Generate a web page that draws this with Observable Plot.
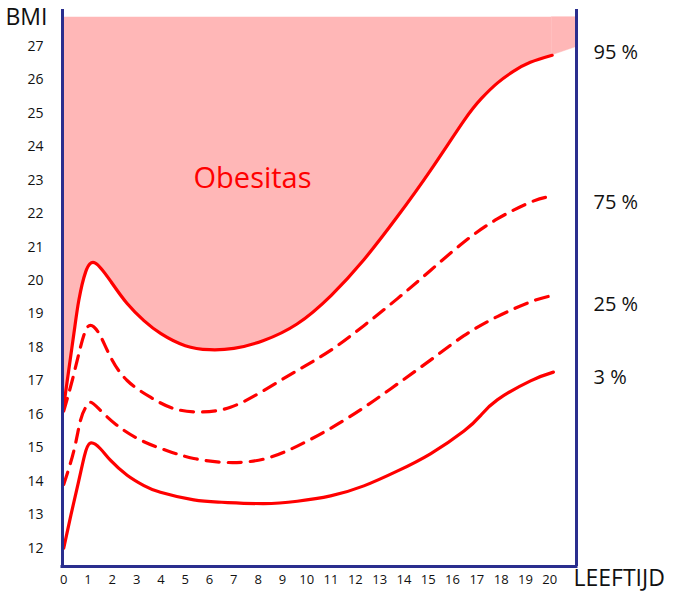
<!DOCTYPE html>
<html>
<head>
<meta charset="utf-8">
<script src="https://cdn.jsdelivr.net/npm/d3@7"></script>
<script src="https://cdn.jsdelivr.net/npm/@observablehq/plot@0.6"></script>
<style>
  html, body { margin: 0; padding: 0; background: #fff; }
  #chart { width: 673px; height: 594px; }
</style>
</head>
<body>
<div id="chart"></div>
<script>
// --- data ---
const p95Age = [0, 0.42, 0.62, 0.9, 1.3, 1.93, 2.61, 3.3, 4.0, 5.0, 6.0, 7.0, 8.2, 9.6, 11.0, 12.35, 13.7, 15.1, 16.47, 17.2, 17.84, 18.5, 19.2, 20.1];
const p95Bmi = [16.25, 18.42, 19.4, 20.25, 20.52, 19.98, 19.31, 18.8, 18.41, 18.05, 17.93, 17.97, 18.2, 18.7, 19.55, 20.62, 21.88, 23.3, 24.78, 25.45, 25.9, 26.25, 26.52, 26.73];

const p75Age = [0, 0.35, 0.69, 0.9, 1.1, 1.45, 1.93, 2.61, 3.57, 4.53, 5.63, 6.86, 8.23, 9.61, 10.98, 12.35, 13.72, 15.09, 16.47, 17.84, 19.21, 19.85];
const p75Bmi = [16.1, 17.01, 18.01, 18.5, 18.66, 18.42, 17.71, 17.01, 16.51, 16.17, 16.07, 16.21, 16.71, 17.31, 17.91, 18.65, 19.45, 20.3, 21.15, 21.84, 22.34, 22.49];

const p25Age = [0, 0.42, 0.69, 0.9, 1.1, 1.45, 2.16, 3.16, 4.26, 5.35, 6.73, 8.23, 9.61, 10.98, 12.35, 13.72, 15.09, 16.47, 17.84, 19.21, 20.1];
const p25Bmi = [13.9, 14.92, 15.82, 16.2, 16.36, 16.16, 15.69, 15.23, 14.91, 14.68, 14.56, 14.66, 15.05, 15.58, 16.2, 16.9, 17.62, 18.35, 18.92, 19.36, 19.55];

const p3Age = [0, 0.3, 0.6, 0.85, 1.1, 1.51, 1.93, 2.61, 3.3, 3.98, 5.35, 6.5, 8.23, 9.61, 10.98, 12.35, 13.72, 15.09, 16.47, 17.15, 17.84, 19.21, 20.15];
const p3Bmi = [12.0, 13.0, 13.95, 14.75, 15.14, 14.97, 14.62, 14.18, 13.87, 13.67, 13.44, 13.37, 13.33, 13.4, 13.56, 13.86, 14.3, 14.82, 15.5, 15.96, 16.43, 17.0, 17.26];

// obesity zone continues past age 20 to the right border
const obeseExtraAge = [21.1];
const obeseExtraBmi = [26.98];
const obeseTop = 27.87;

const xTicks = d3.range(0, 21);
const yTicks = d3.range(12, 28);
const pctLabels = ["95 %", "75 %", "25 %", "3 %"];
const pctLabelBmi = [26.8, 22.33, 19.28, 17.1];

// --- build tables ---
const zip = (xs, ys) => xs.map((x, i) => ({x, y: ys[i]}));
const p95 = zip(p95Age, p95Bmi);
const p75 = zip(p75Age, p75Bmi);
const p25 = zip(p25Age, p25Bmi);
const p3 = zip(p3Age, p3Bmi);
const obeseTail = zip([p95Age[p95Age.length - 1]].concat(obeseExtraAge), [p95Bmi[p95Bmi.length - 1]].concat(obeseExtraBmi));

const X0 = -0.05, X1 = 21.1, Y0 = 11.45, Y1 = 28.1;
const RED = "#ff0000", BLUE = "#2a2e8e", PINK = "#ffb7b7";
const CURVE = "natural";

const chart = Plot.plot({
  width: 673,
  height: 594,
  marginLeft: 62,
  marginRight: 97,
  marginTop: 9,
  marginBottom: 28,
  style: {fontFamily: "'Open Sans', sans-serif", color: "#111", background: "#fff"},
  x: {domain: [X0, X1]},
  y: {domain: [Y0, Y1]},
  marks: [
    Plot.areaY(p95, {x: "x", y1: "y", y2: obeseTop, fill: PINK, curve: CURVE}),
    Plot.areaY(obeseTail, {x: "x", y1: "y", y2: obeseTop, fill: PINK, stroke: PINK, strokeWidth: 0.5}),
    Plot.line(p95, {x: "x", y: "y", stroke: RED, strokeWidth: 3.2, curve: CURVE}),
    Plot.line(p75, {x: "x", y: "y", stroke: RED, strokeWidth: 3.2, strokeDasharray: "13,9", curve: CURVE}),
    Plot.line(p25, {x: "x", y: "y", stroke: RED, strokeWidth: 3.2, strokeDasharray: "13,9", curve: CURVE}),
    Plot.line(p3, {x: "x", y: "y", stroke: RED, strokeWidth: 3.2, curve: CURVE}),
    Plot.ruleX([X0, X1], {stroke: BLUE, strokeWidth: 3}),
    Plot.ruleY([Y0], {stroke: BLUE, strokeWidth: 3, strokeLinecap: "square"}),
    Plot.axisX(xTicks, {tickSize: 0, tickPadding: 8, fontSize: 13, label: null, tickFormat: d => String(d)}),
    Plot.axisY(yTicks, {tickSize: 0, tickPadding: 19, fontSize: 14, label: null, tickFormat: d => String(d)}),
    Plot.text(pctLabels, {x: X1, y: (d, i) => pctLabelBmi[i], text: d => d, dx: 17, textAnchor: "start", fontSize: 20, fill: "#111"}),
    Plot.text(["Obesitas"], {x: 7.77, y: 23.05, text: d => d, fontSize: 29, fill: RED}),
    Plot.text(["BMI"], {x: X0, y: 27.85, text: d => d, dx: -57, textAnchor: "start", fontSize: 23, fill: "#111"}),
    Plot.text(["LEEFTIJD"], {x: X1, y: 11.09, text: d => d, dx: -3, textAnchor: "start", fontSize: 23, fill: "#111"})
  ]
});
document.getElementById("chart").appendChild(chart);
</script>
</body>
</html>
